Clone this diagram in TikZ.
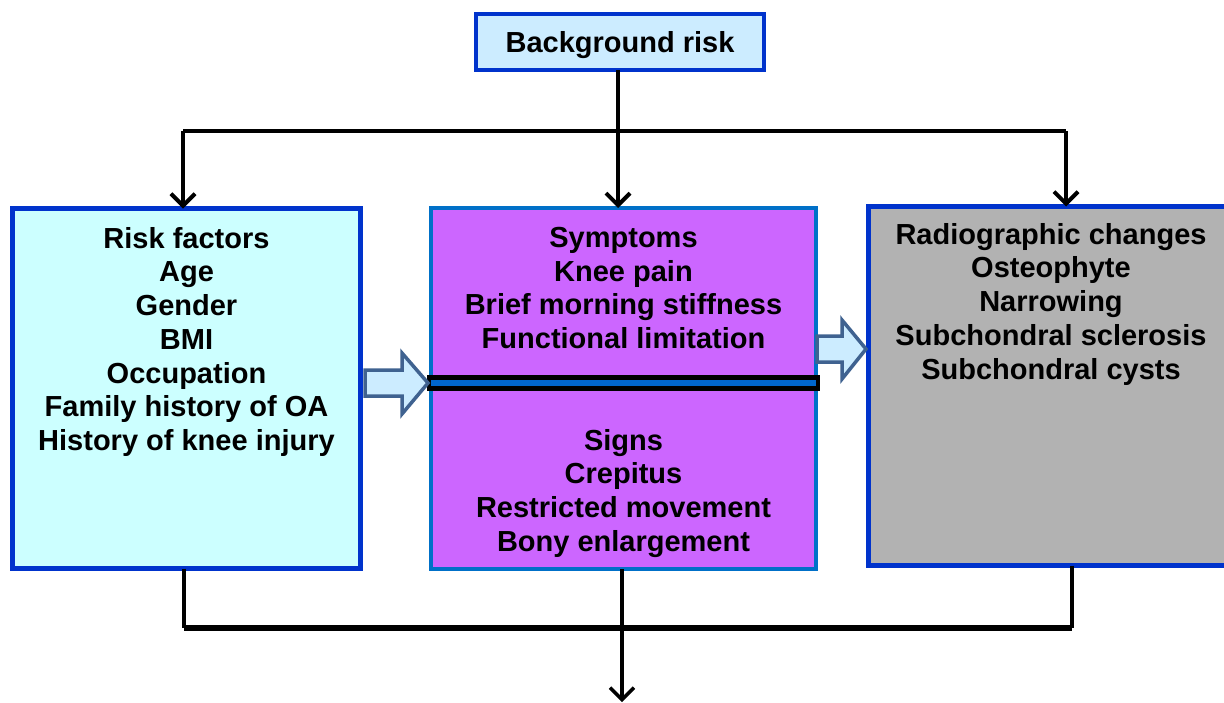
\documentclass[tikz,border=0pt]{standalone}
\usepackage{fontspec}
\setmainfont{Liberation Sans}
\usetikzlibrary{positioning, arrows.meta, calc}
\definecolor{boxblue}{HTML}{0033CC}
\definecolor{midblue}{HTML}{0070C8}
\definecolor{bgfill}{HTML}{CCECFF}
\definecolor{cyanfill}{HTML}{CCFFFF}
\definecolor{violet}{HTML}{CC66FF}
\definecolor{xgray}{HTML}{B2B2B2}
\definecolor{steel}{HTML}{3F6290}
\definecolor{barblue}{HTML}{0066CC}
\tikzset{
  box/.style={draw=boxblue, line width=4.5pt, inner sep=0pt, outer sep=0pt},
  txt/.style={font=\bfseries\fontsize{29}{33.7}\selectfont, align=center,
    inner sep=0pt, anchor=north, text=black},
  flow/.style={-{Straight Barb[length=12pt, width=24pt]}, line width=4pt},
  link/.style={line width=3.5pt},
  blockarr/.style={draw=steel, fill=bgfill, line width=3.5pt, line join=miter},
}
\begin{document}
\begin{tikzpicture}[x=1pt, y=-1pt]
  \useasboundingbox (0,0) rectangle (1224,702);
  % boxes
  \node[box, fill=bgfill, minimum width=288, minimum height=56,
    font=\bfseries\fontsize{29}{33.7}\selectfont, text depth=0pt] (bg) at (620,42) {Background risk};
  \node[box, fill=cyanfill, minimum width=348, minimum height=360] (risk) at (186.5,388.5) {};
  \node[box, draw=midblue, line width=4pt, fill=violet, minimum width=385, minimum height=361] (mid) at (623.5,388.5) {};
  \node[box, draw=none, fill=xgray, minimum width=372, minimum height=359] (xray) at (1054.5,386) {};
  \draw[boxblue, line width=4.5pt] (xray.north east) -- (xray.north west) -- (xray.south west) -- (xray.south east);
  \node[draw=black, fill=barblue, line width=4.5pt, inner sep=0pt,
    minimum width=389, minimum height=11] (bar) at (623.5,383) {};
  % texts
  \node[txt] (risktxt) at (186.5,227) {Risk factors\\Age\\Gender\\BMI\\Occupation\\Family history of OA\\History of knee injury};
  \node[txt] (symtxt) at (623.5,227) {Symptoms\\Knee pain\\Brief morning stiffness\\Functional limitation};
  \node[txt] (signtxt) at (623.5,429) {Signs\\Crepitus\\Restricted movement\\Bony enlargement};
  \node[txt] (xraytxt) at (1051,223) {Radiographic changes\\Osteophyte\\Narrowing\\Subchondral sclerosis\\Subchondral cysts};
  % block arrows
  \draw[blockarr] (365,370) -- (402,370) -- (402,353) -- (428,383) -- (402,414) -- (402,396) -- (365,396) -- cycle;
  \draw[blockarr] (817,336) -- (842,336) -- (842,320) -- (866,349) -- (842,379) -- (842,362) -- (817,362) -- cycle;
  % top connectors
  \coordinate (tl) at (183,131);
  \coordinate (tr) at (1066,131);
  \draw[link, line width=4pt] (tl) -- (tr);
  \draw[flow] ([xshift=-2pt]bg.south) -- ([xshift=-2pt]bg.south |- mid.north);
  \draw[flow] (tl) -- (tl |- risk.north);
  \draw[flow] (tr) -- (tr |- xray.north);
  % bottom connectors
  \coordinate (bl) at (184,628);
  \coordinate (br) at (1072,628);
  \coordinate (out) at (622,702);
  \draw[link] (bl |- risk.south) -- (bl);
  \draw[link] (br |- xray.south) -- (br);
  \draw[line width=6pt] (bl) -- (br);
  \draw[flow, line width=3.5pt] (out |- mid.south) -- (out);
\end{tikzpicture}
\end{document}
